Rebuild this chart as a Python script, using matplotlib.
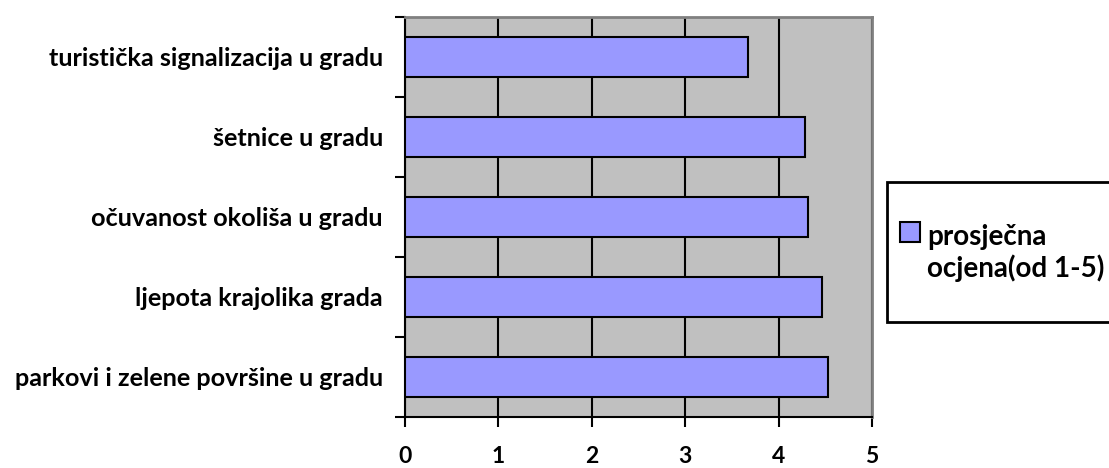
import matplotlib.pyplot as plt
from matplotlib.patches import Rectangle

plt.rcParams['font.family'] = ['Lato', 'DejaVu Sans']
plt.rcParams['font.weight'] = 'bold'

categories = ['parkovi i zelene površine u gradu',
              'ljepota krajolika grada',
              'očuvanost okoliša u gradu',
              'šetnice u gradu',
              'turistička signalizacija u gradu']
values = [4.53, 4.46, 4.31, 4.28, 3.67]
series_name = 'prosječna\nocjena(od 1-5)'
x_ticks = [0, 1, 2, 3, 4, 5]

W, H = 1109, 468
fig = plt.figure(figsize=(W / 100, H / 100), dpi=100)
ax = fig.add_axes([405 / W, (H - 417) / H, 467 / W, 400 / H])
ax.set_facecolor('#C0C0C0')

pos = list(range(len(categories)))
bars = ax.barh(pos, values, height=0.5, color='#9999FF', edgecolor='black',
               linewidth=1.5, label=series_name, zorder=3)

ax.set_xlim(0, 5)
ax.set_ylim(-0.5, len(categories) - 0.5)
ax.set_xticks(x_ticks)
ax.set_xticklabels([str(t) for t in x_ticks], fontsize=16.5, fontweight='bold')
ax.set_yticks(pos)
ax.set_yticklabels(categories, fontsize=18.2, fontweight='bold')
ax.set_yticks([p - 0.5 for p in pos] + [len(categories) - 0.5], minor=True)
ax.tick_params(axis='y', which='major', length=0, pad=16)
ax.tick_params(axis='y', which='minor', length=7, width=1.5, direction='out')
ax.tick_params(axis='x', length=7, width=1.5, direction='out', pad=14)
ax.grid(axis='x', color='black', linewidth=1.5, zorder=1)

ax.spines['left'].set_linewidth(1.5)
ax.spines['bottom'].set_linewidth(1.5)
for s in ['top', 'right']:
    ax.spines[s].set_color('#808080')
    ax.spines[s].set_linewidth(2)

# legend: box, colour square, series name
box = Rectangle((887 / W, (H - 322) / H), 240 / W, 140 / H, transform=fig.transFigure,
                facecolor='white', edgecolor='black', linewidth=2, clip_on=False)
fig.patches.append(box)
key = Rectangle((900 / W, (H - 242) / H), 20 / W, 20 / H, transform=fig.transFigure,
                facecolor=bars[0].get_facecolor(), edgecolor='black', linewidth=1.5)
fig.patches.append(key)
fig.text(927 / W, (H - 277) / H, series_name, fontsize=20, fontweight='bold',
         va='baseline', ha='left', linespacing=1.2)

fig.savefig('out.png', dpi=100)
